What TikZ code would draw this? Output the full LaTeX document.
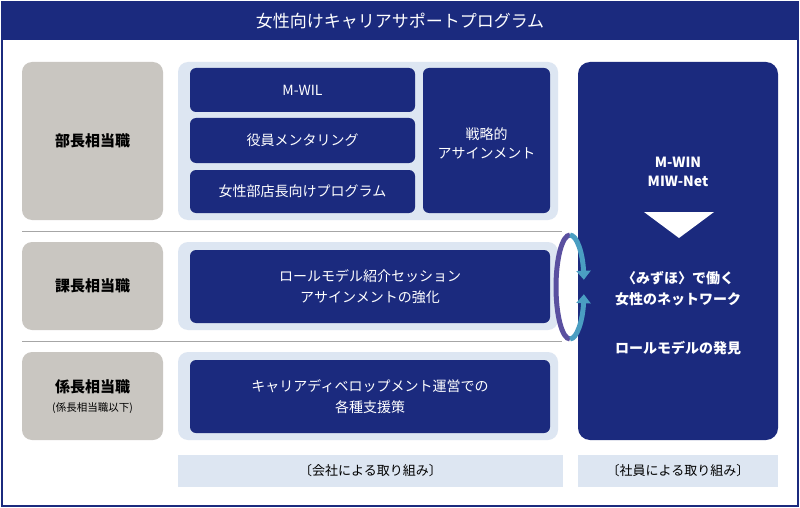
\documentclass[tikz,border=0pt]{standalone}
\usepackage{fontspec}
\setmainfont{Noto Sans CJK JP}
\usetikzlibrary{arrows.meta}
\definecolor{navy}{HTML}{1B2A7E}
\definecolor{gbox}{HTML}{C9C6C1}
\definecolor{lblue}{HTML}{DDE6F2}
\definecolor{purp}{HTML}{5A50A0}
\definecolor{teal}{HTML}{4A9EC2}
\tikzset{
 nb/.style={fill=navy,rounded corners=6pt,text=white,font=\fontsize{14}{18}\selectfont,align=center},
 gb/.style={fill=gbox,rounded corners=10pt,font=\bfseries\fontsize{15}{18}\selectfont,align=center},
 lb/.style={fill=lblue,rounded corners=10pt},
}
\begin{document}
\begin{tikzpicture}[x=1pt,y=-1pt]
\useasboundingbox (0,0) rectangle (800,508);
\fill[white] (0,0) rectangle (800,508);
\draw[navy,line width=1.5pt] (2,2) rectangle (798,506);
\fill[navy] (2,2) rectangle (798,40);
\node[text=white,font=\fontsize{17}{20}\selectfont] (title) at (400,21) {女性向けキャリアサポートプログラム};
% gray boxes
\fill[gb] (22,62) rectangle (163,220); \node[font=\bfseries\fontsize{15}{18}\selectfont] (g1) at (92.5,141) {部長相当職};
\fill[gb] (22,242) rectangle (163,330); \node[font=\bfseries\fontsize{15}{18}\selectfont] (g2) at (92.5,286) {課長相当職};
\fill[gb] (22,352) rectangle (163,440); \node[font=\bfseries\fontsize{15}{18}\selectfont] (g3) at (92.5,387) {係長相当職};
\node[font=\fontsize{10.5}{12}\selectfont] (g3s) at (92.5,408) {(係長相当職以下)};
% separator lines
\draw[gray!70] (22,231) -- (562,231);
\draw[gray!70] (22,341) -- (562,341);
% light panels
\fill[lblue,rounded corners=10pt] (178,62) rectangle (558,220);
\fill[lblue,rounded corners=10pt] (178,242) rectangle (558,330);
\fill[lblue,rounded corners=10pt] (178,352) rectangle (558,440);
\fill[lblue] (178,455) rectangle (563,487);
\fill[lblue] (578,455) rectangle (778,487);
\node[font=\fontsize{13}{16}\selectfont] (c1) at (370.5,471) {〔会社による取り組み〕};
\node[font=\fontsize{13}{16}\selectfont] (c2) at (678,471) {〔社員による取り組み〕};
% navy boxes
\fill[navy,rounded corners=6pt] (190,68) rectangle (415,112); \node[text=white,font=\fontsize{14}{18}\selectfont] (b1) at (302.5,90) {M-WIL};
\fill[navy,rounded corners=6pt] (190,118) rectangle (415,163); \node[text=white,font=\fontsize{14}{18}\selectfont] (b2) at (302.5,140.5) {役員メンタリング};
\fill[navy,rounded corners=6pt] (190,170) rectangle (415,213); \node[text=white,font=\fontsize{14}{18}\selectfont] (b3) at (302.5,191.5) {女性部店長向けプログラム};
\fill[navy,rounded corners=6pt] (423,68) rectangle (550,213); \node[text=white,font=\fontsize{14}{19}\selectfont,align=center] (b4) at (486.5,143) {戦略的\\アサインメント};
\fill[navy,rounded corners=6pt] (190,250) rectangle (550,323); \node[text=white,font=\fontsize{14}{21}\selectfont,align=center] (b5) at (370,286.5) {ロールモデル紹介セッション\\アサインメントの強化};
\fill[navy,rounded corners=6pt] (190,360) rectangle (550,433); \node[text=white,font=\fontsize{14}{21}\selectfont,align=center] (b6) at (370,396.5) {キャリアディベロップメント運営での\\各種支援策};
% right big box
\fill[navy,rounded corners=12pt] (578,62) rectangle (778,440);
\node[text=white,font=\bfseries\fontsize{14}{19}\selectfont,align=center] (r1) at (678,172) {M-WIN\\MIW-Net};
\fill[white] (644,212) -- (714,212) -- (679,238) -- cycle;
\node[text=white,font=\bfseries\fontsize{14}{21}\selectfont,align=center] (r2) at (678,289) {〈みずほ〉で働く\\女性のネットワーク};
\node[text=white,font=\bfseries\fontsize{14}{18}\selectfont] (r3) at (678,348) {ロールモデルの発見};
% cycle
\draw[purp,line width=5pt] (570,235) arc[start angle=-90,end angle=-270,x radius=14,y radius=52];
\draw[teal,line width=5pt,-{Triangle[length=9pt,width=14pt]}] (570,235) arc[start angle=-90,end angle=-8,x radius=14,y radius=52];
\draw[teal,line width=5pt,-{Triangle[length=9pt,width=14pt]}] (570,339) arc[start angle=90,end angle=8,x radius=14,y radius=52];
\end{tikzpicture}
\end{document}
